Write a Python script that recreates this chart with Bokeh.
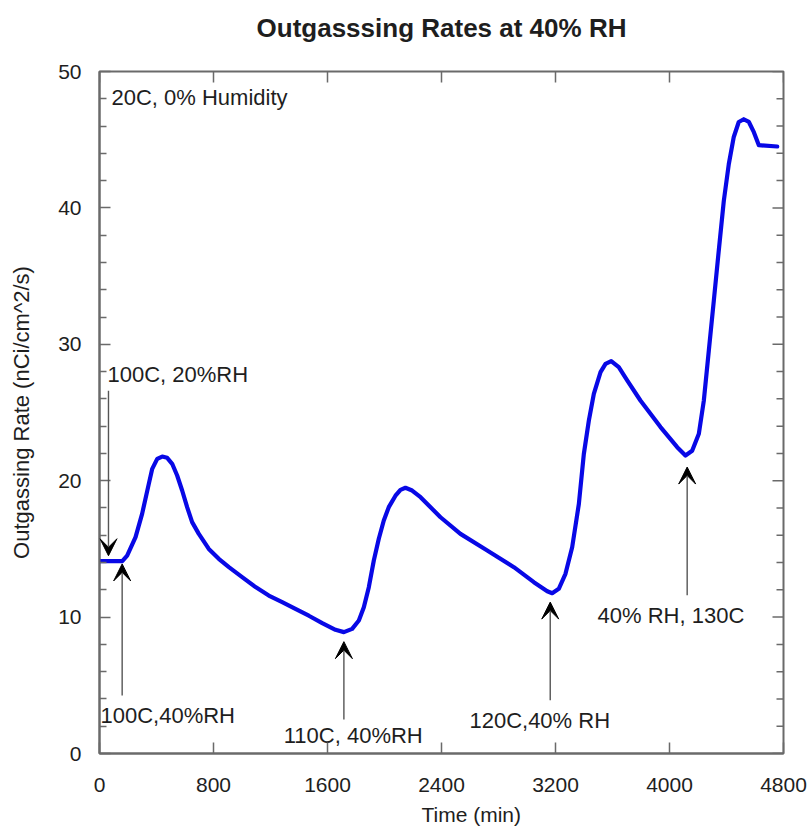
from bokeh.plotting import figure
from bokeh.models import (LinearAxis, Range1d, FixedTicker, Arrow, VeeHead, Title,
                          ColumnDataSource)
from bokeh.core.properties import value
from bokeh.embed import file_html
from bokeh.resources import INLINE

# ---- data ----
time_min = [0, 80, 160, 194, 253, 299, 346, 370, 405, 440, 475, 510, 545, 580,
            615, 650, 697, 767, 837, 908, 1001, 1095, 1188, 1282, 1375, 1469,
            1563, 1656, 1715, 1773, 1820, 1855, 1890, 1925, 1960, 1995, 2030,
            2077, 2112, 2147, 2194, 2253, 2393, 2533, 2721, 2908, 3048, 3142,
            3177, 3223, 3270, 3317, 3364, 3399, 3434, 3469, 3516, 3551, 3591,
            3644, 3703, 3796, 3937, 4054, 4112, 4159, 4206, 4241, 4276, 4311,
            4346, 4381, 4416, 4451, 4486, 4521, 4557, 4592, 4627, 4756]
rate = [14.1, 14.1, 14.1, 14.5, 15.86, 17.57, 19.77, 20.87, 21.6, 21.77, 21.68,
        21.24, 20.38, 19.28, 18.06, 16.96, 16.1, 15.0, 14.27, 13.66, 12.93,
        12.2, 11.58, 11.1, 10.6, 10.1, 9.56, 9.07, 8.9, 9.14, 9.75, 10.73,
        12.19, 14.15, 15.74, 17.08, 18.06, 18.9, 19.33, 19.48, 19.28, 18.79,
        17.32, 16.1, 14.88, 13.66, 12.56, 11.9, 11.75, 12.07, 13.17, 15.12,
        18.3, 21.97, 24.4, 26.37, 27.96, 28.57, 28.77, 28.32, 27.35, 25.88,
        23.93, 22.46, 21.85, 22.2, 23.44, 25.88, 29.55, 33.2, 36.9, 40.5, 43.2,
        45.2, 46.3, 46.5, 46.3, 45.55, 44.6, 44.5]

x_ticks = [0, 800, 1600, 2400, 3200, 4000, 4800]
y_ticks = [0, 10, 20, 30, 40, 50]
y_minor = [2, 4, 6, 8, 12, 14, 16, 18, 22, 24, 26, 28, 32, 34, 36, 38, 42, 44, 46, 48]

# annotations: label text, text x, text y, arrow x, arrow start y, arrow end y
ann_text = ["100C, 20%RH", "100C,40%RH", "110C, 40%RH", "120C,40% RH", "40% RH, 130C"]
ann_tx = [56, 7, 1293, 2596, 3495]
ann_ty = [27.8, 2.8, 1.35, 2.42, 10.1]
arr_x = [63, 159, 1715, 3163, 4124]
arr_y0 = [26.6, 4.25, 2.5, 3.9, 11.6]
arr_y1 = [14.5, 13.9, 8.2, 11.1, 21.0]

X0, X1, Y0, Y1 = 0, 4800, 0, 50
FONT = "Liberation Sans"
TXT = "#1e1e1e"
AX = "#6a6a6a"

p = figure(width=808, height=833, output_backend="svg", toolbar_location=None,
           x_range=Range1d(X0, X1), y_range=Range1d(Y0, Y1),
           min_border_left=99, min_border_right=25, min_border_top=71,
           min_border_bottom=80, x_axis_location=None, y_axis_location=None)
try:
    p.title = None
except Exception:
    p.title.visible = False
p.grid.visible = False
p.outline_line_color = AX
p.outline_line_width = 2
p.background_fill_color = "white"
p.border_fill_color = "white"

# pixel scale of the frame (684 x 682 px)
px_per_x = 684 / (X1 - X0)
px_per_y = 682 / (Y1 - Y0)
MAJ, MIN = 11, 7

def style_axis(ax, ticks, minor):
    ax.ticker = FixedTicker(ticks=ticks, minor_ticks=minor)
    ax.axis_line_color = AX
    ax.axis_line_width = 2
    ax.major_tick_line_color = AX
    ax.minor_tick_line_color = AX
    ax.major_tick_line_width = 1.5
    ax.minor_tick_line_width = 1.5
    ax.major_tick_in = MAJ
    ax.major_tick_out = 0
    ax.minor_tick_in = MIN
    ax.minor_tick_out = 0
    ax.major_label_text_font = FONT
    ax.major_label_text_font_size = "21px"
    ax.major_label_text_color = TXT

xb = LinearAxis()
style_axis(xb, x_ticks, [])
xb.major_label_standoff = 24
p.add_layout(xb, "below")

yl = LinearAxis()
style_axis(yl, y_ticks, y_minor)
yl.major_label_standoff = 18
yl.axis_label = "Outgassing Rate (nCi/cm^2/s)"
yl.axis_label_text_font = FONT
yl.axis_label_text_font_size = "22px"
yl.axis_label_text_font_style = "normal"
yl.axis_label_text_color = TXT
yl.axis_label_standoff = 21
p.add_layout(yl, "left")

# chart title carried by a tick-less axis above the frame
ta = LinearAxis(ticker=FixedTicker(ticks=[]))
ta.axis_line_color = None
ta.major_tick_line_color = None
ta.minor_tick_line_color = None
ta.major_tick_out = 0
ta.minor_tick_out = 0
ta.major_tick_in = 0
ta.minor_tick_in = 0
ta.axis_label = "Outgasssing Rates at 40% RH"
ta.axis_label_text_font = FONT
ta.axis_label_text_font_size = "26px"
ta.axis_label_text_font_style = "bold"
ta.axis_label_text_color = TXT
ta.axis_label_standoff = 29
p.add_layout(ta, "above")

# inward ticks along the top and right edges of the frame
p.segment(x0=x_ticks, y0=[Y1] * len(x_ticks), x1=x_ticks,
          y1=[Y1 - MAJ / px_per_y] * len(x_ticks), line_color=AX, line_width=1.5)
p.segment(x0=[X1] * len(y_ticks), y0=y_ticks, x1=[X1 - MAJ / px_per_x] * len(y_ticks),
          y1=y_ticks, line_color=AX, line_width=1.5)
p.segment(x0=[X1] * len(y_minor), y0=y_minor, x1=[X1 - MIN / px_per_x] * len(y_minor),
          y1=y_minor, line_color=AX, line_width=1.5)

src = ColumnDataSource(dict(x=time_min, y=rate))
p.line("x", "y", source=src, line_color="#0808e6", line_width=4.2,
       line_join="round", line_cap="round")

for i in range(len(ann_text)):
    p.add_layout(Arrow(x_start=arr_x[i], y_start=arr_y0[i], x_end=arr_x[i], y_end=arr_y1[i],
                       line_color="#555555", line_width=1.4,
                       end=VeeHead(size=17, fill_color="black", line_color="black",
                                   line_width=1)))

tsrc = ColumnDataSource(dict(x=ann_tx, y=ann_ty, t=ann_text))
p.text("x", "y", text="t", source=tsrc, text_font=value(FONT), text_font_size="22px",
       text_color=TXT, text_baseline="middle", text_align="left")

p.text(x=[84], y=[48.1], text=["20C, 0% Humidity"], text_font=value(FONT),
       text_font_size="22px", text_color=TXT, text_baseline="middle", text_align="left")

xt = Title(text="Time (min)", text_font=FONT, text_font_size="21px",
           text_font_style="normal", text_color=TXT, align="left", offset=322,
           standoff=12)
p.add_layout(xt, "below")

open("out.html", "w").write(file_html(p, INLINE))
